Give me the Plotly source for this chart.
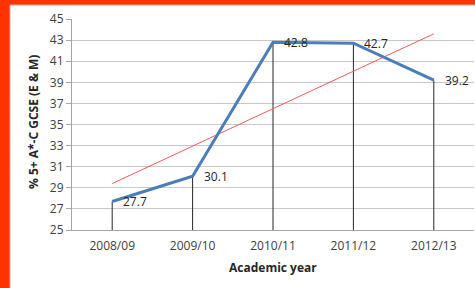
import plotly.graph_objects as go

years = ["2008/09", "2009/10", "2010/11", "2011/12", "2012/13"]
values = [27.7, 30.1, 42.8, 42.7, 39.2]
trend_x = ["2008/09", "2012/13"]
trend_y = [29.4, 43.6]
y_min, y_max, y_step = 25, 45, 2

W, H = 475, 288
ML, MR, MT, MB = 72, 1, 19, 58
pw, ph = W - ML - MR, H - MT - MB

def px_x(p):
    return (p - ML) / pw

def px_y(p):
    return (H - MB - p) / ph

fig = go.Figure()

# drop lines
dx, dy = [], []
for c, v in zip(years, values):
    dx += [c, c, None]
    dy += [y_min, v, None]
fig.add_trace(go.Scatter(x=dx, y=dy, mode="lines",
                         line=dict(color="#262626", width=1),
                         hoverinfo="skip", showlegend=False))

# trend line
fig.add_trace(go.Scatter(x=trend_x, y=trend_y, mode="lines",
                         line=dict(color="#f4595b", width=1),
                         showlegend=False))

# main series
fig.add_trace(go.Scatter(x=years, y=values, mode="lines",
                         line=dict(color="#4a7ebb", width=3),
                         showlegend=False))

for c, v in zip(years, values):
    fig.add_annotation(x=c, y=v, text=f"{v:.1f}", showarrow=False,
                       xanchor="left", yanchor="middle", xshift=9,
                       font=dict(family="Open Sans", size=12, color="#262626"))

# axis titles
fig.add_annotation(x=0.5, y=px_y(267), xref="paper", yref="paper",
                   text="<b>Academic year</b>", showarrow=False,
                   xanchor="center", yanchor="middle",
                   font=dict(family="Open Sans", size=12, color="#262626"))
fig.add_annotation(x=px_x(33), y=px_y(122), xref="paper", yref="paper",
                   text="<b>% 5+ A*-C GCSE (E & M)</b>", showarrow=False,
                   textangle=-90, xanchor="center", yanchor="middle",
                   font=dict(family="Open Sans", size=12, color="#262626"))

shapes = [
    # white chart area over an orange page
    dict(type="rect", xref="paper", yref="paper",
         x0=px_x(10), x1=px_x(W + 2), y0=px_y(H + 2), y1=px_y(5),
         fillcolor="white", line=dict(color="#b0b0b0", width=1), layer="below"),
]

fig.update_layout(
    width=W, height=H,
    margin=dict(l=ML, r=MR, t=MT, b=MB),
    paper_bgcolor="#ff3300", plot_bgcolor="rgba(0,0,0,0)",
    shapes=shapes,
    font=dict(family="Open Sans", color="#404040"),
    xaxis=dict(type="category", categoryorder="array", categoryarray=years,
               range=[-0.5, 4.5], showgrid=False, showline=True,
               linecolor="#a6a6a6", linewidth=1, automargin=False,
               ticks="outside", ticklen=5, tickcolor="rgba(0,0,0,0)",
               tickfont=dict(size=12, color="#404040")),
    yaxis=dict(range=[y_min, y_max], dtick=y_step, tick0=y_min,
               showgrid=True, gridcolor="#c8c8c8", gridwidth=1,
               showline=True, linecolor="#a6a6a6", linewidth=1,
               ticks="outside", ticklen=5, tickcolor="#a6a6a6",
               zeroline=False, automargin=False,
               tickfont=dict(size=12, color="#404040")),
)

fig.write_html("out.html", config={"displayModeBar": False},
               post_script="document.body.style.margin='0';document.documentElement.style.margin='0';document.body.style.overflow='hidden';window.scrollTo(0,0);")
